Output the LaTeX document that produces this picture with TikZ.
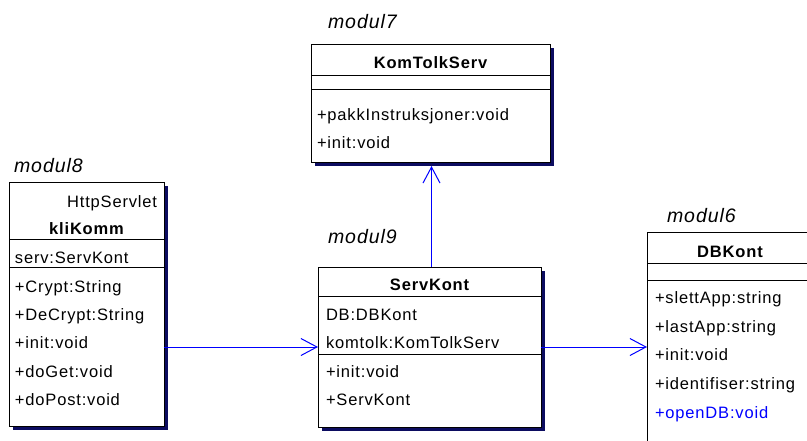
\documentclass[tikz,border=0pt]{standalone}
\usepackage{fontspec}
\setmainfont{Liberation Sans}[LetterSpace=5]
\usetikzlibrary{arrows.meta,shadows,calc}
\definecolor{shadowblue}{RGB}{12,12,96}
\definecolor{linkblue}{RGB}{0,0,255}
\begin{document}
\begin{tikzpicture}[x=1pt,y=-1pt,
  every node/.style={inner sep=0pt,outer sep=0pt},
  umlbox/.style={draw=black,line width=1pt,fill=white,anchor=north west,
    drop shadow={shadow xshift=3.5pt,shadow yshift=-3.5pt,fill=shadowblue,opacity=1}},
  member/.style={anchor=base west,font=\fontsize{16.5}{19}\selectfont},
  title/.style={anchor=base,font=\fontsize{16.5}{19}\selectfont\bfseries},
  modlabel/.style={anchor=base west,font=\fontsize{19.5}{22}\selectfont\itshape},
  sep/.style={draw=black,line width=1pt},
  dep/.style={draw=linkblue,line width=1pt,
    -{Straight Barb[length=16pt,width=17pt,line width=1pt]}}]
\clip (0,0) rectangle (807,440);
\fill[white] (0,0) rectangle (807,440);

% class boxes
\node[umlbox,minimum width=239pt,minimum height=118pt] (kom) at (311,44) {};
\node[umlbox,minimum width=155pt,minimum height=244pt] (kli) at (9,182) {};
\node[umlbox,minimum width=223pt,minimum height=160pt] (serv) at (318,267) {};
\node[umlbox,minimum width=190pt,minimum height=240pt] (db) at (647,232) {};

% compartment separators
\draw[sep] ($(kom.north west)+(0,31)$) -- ($(kom.north east)+(0,31)$);
\draw[sep] ($(kom.north west)+(0,45)$) -- ($(kom.north east)+(0,45)$);
\draw[sep] ($(kli.north west)+(0,57)$) -- ($(kli.north east)+(0,57)$);
\draw[sep] ($(kli.north west)+(0,85)$) -- ($(kli.north east)+(0,85)$);
\draw[sep] ($(serv.north west)+(0,29)$) -- ($(serv.north east)+(0,29)$);
\draw[sep] ($(serv.north west)+(0,87)$) -- ($(serv.north east)+(0,87)$);
\draw[sep] ($(db.north west)+(0,31)$) -- ($(db.north east)+(0,31)$);
\draw[sep] ($(db.north west)+(0,48)$) -- ($(db.north east)+(0,48)$);

% module labels
\node[modlabel] (m7) at (328,28) {modul7};
\node[modlabel] (m8) at (14,172) {modul8};
\node[modlabel] (m9) at (328,243) {modul9};
\node[modlabel] (m6) at (667,222) {modul6};

% KomTolkServ
\node[title] (komt) at (430.5,68) {KomTolkServ};
\node[member] (kom1) at (317,120) {+pakkInstruksjoner:void};
\node[member] (kom2) at (317,148) {+init:void};

% kliKomm
\node[member,anchor=base east] (klis) at (157,207) {HttpServlet};
\node[title] (klit) at (86.5,234) {kliKomm};
\node[member] (kli0) at (15,263) {serv:ServKont};
\node[member] (kli1) at (15,292) {+Crypt:String};
\node[member] (kli2) at (15,320) {+DeCrypt:String};
\node[member] (kli3) at (15,348) {+init:void};
\node[member] (kli4) at (15,377) {+doGet:void};
\node[member] (kli5) at (15,405) {+doPost:void};

% ServKont
\node[title] (servt) at (429.5,290) {ServKont};
\node[member] (serva) at (326,320) {DB:DBKont};
\node[member] (servb) at (326,348) {komtolk:KomTolkServ};
\node[member] (serv1) at (326,377) {+init:void};
\node[member] (serv2) at (326,405) {+ServKont};

% DBKont
\node[title] (dbt) at (730,257) {DBKont};
\node[member] (db1) at (655,303) {+slettApp:string};
\node[member] (db2) at (655,332) {+lastApp:string};
\node[member] (db3) at (655,360) {+init:void};
\node[member] (db4) at (655,389) {+identifiser:string};
\node[member,text=linkblue] (db5) at (655,418) {+openDB:void};

% dependencies
\draw[dep] (kli.east |- serv.west) -- (serv.west);
\draw[dep] (serv.east) -- (db.west |- serv.east);
\draw[dep,shorten >=4pt] ($(serv.north)+(2,0)$) -- ($(kom.south)+(1,0)$);
\end{tikzpicture}
\end{document}
